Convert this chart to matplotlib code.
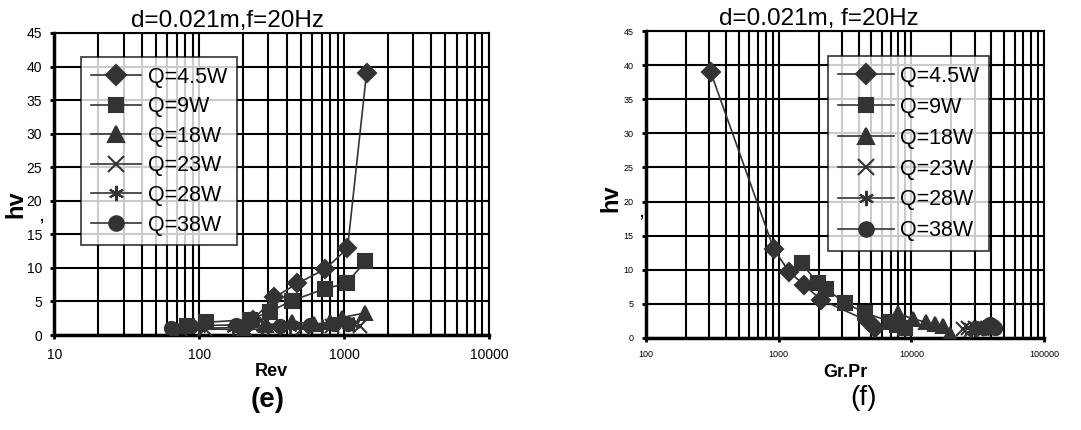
import matplotlib
matplotlib.use('Agg')
import matplotlib.pyplot as plt
from matplotlib.ticker import FixedLocator, FixedFormatter, LogLocator, NullFormatter

plt.rcParams['font.family'] = ['Liberation Sans', 'DejaVu Sans']

labels = ['Q=4.5W', 'Q=9W', 'Q=18W', 'Q=23W', 'Q=28W', 'Q=38W']
markers = ['D', 's', '^', 'x', (6, 2, 0), 'o']

# (e) hv vs Rev
re_45 = [215, 235, 330, 476, 736, 1054, 1426]
hv_45_e = [1.5, 2.3, 5.6, 7.7, 9.8, 12.9, 39.0]
re_9 = [82, 112, 225, 307, 434, 736, 1038, 1403]
hv_9_e = [1.4, 1.9, 2.3, 3.5, 5.1, 6.9, 7.7, 11.0]
re_18 = [200, 290, 434, 620, 800, 960, 1403]
hv_18_e = [0.8, 1.5, 2.0, 1.6, 1.9, 2.6, 3.3]
re_23 = [75, 110, 210, 330, 520, 820, 1290]
hv_23_e = [0.7, 0.9, 0.8, 1.0, 1.1, 1.3, 1.4]
re_28 = [70, 100, 170, 270, 420, 700, 1150]
hv_28_e = [0.8, 1.0, 1.1, 1.2, 1.2, 1.4, 1.6]
re_38 = [64, 88, 180, 360, 585, 850, 1070]
hv_38_e = [1.0, 1.4, 1.5, 1.4, 1.5, 1.6, 1.7]

# (f) hv vs Gr.Pr
gp_45 = [307, 920, 1200, 1550, 2090, 4800, 5300]
hv_45_f = [39.0, 13.0, 9.7, 7.8, 5.6, 2.4, 1.5]
gp_9 = [1490, 1970, 2280, 3170, 4480, 6900, 7800, 9000]
hv_9_f = [11.0, 8.0, 7.2, 5.1, 3.7, 2.4, 1.9, 1.4]
gp_18 = [7900, 10300, 13000, 15000, 17400, 19500]
hv_18_f = [3.6, 2.8, 2.3, 2.0, 1.8, 0.6]
gp_23 = [24500, 26500, 28000, 30000, 31500, 33000, 34500]
hv_23_f = [1.3, 1.4, 1.2, 1.5, 1.3, 1.4, 1.5]
gp_28 = [28000, 30000, 32000, 34000, 36000, 38000]
hv_28_f = [1.2, 1.3, 1.4, 1.4, 1.5, 1.5]
gp_38 = [35000, 37000, 39000, 41000, 43000]
hv_38_f = [1.5, 1.8, 2.0, 1.7, 1.5]

e_series = [(re_45, hv_45_e), (re_9, hv_9_e), (re_18, hv_18_e),
            (re_23, hv_23_e), (re_28, hv_28_e), (re_38, hv_38_e)]
f_series = [(gp_45, hv_45_f), (gp_9, hv_9_f), (gp_18, hv_18_f),
            (gp_23, hv_23_f), (gp_28, hv_28_f), (gp_38, hv_38_f)]

ecol = '#333333'

fig = plt.figure(figsize=(10.81, 4.30), dpi=100)
ax1 = fig.add_axes([0.0504, 0.2209, 0.4020, 0.7024])
ax2 = fig.add_axes([0.5976, 0.2140, 0.3682, 0.7139])


def draw(ax, series, xlim, xticks, tickfs, legfs, leg_anchor, hlen, lspace):
    for (x, y), lab, m in zip(series, labels, markers):
        ms = {'D': 9, 's': 9.5, 'o': 9.5, '^': 10}.get(m, 10)
        ax.plot(x, y, color=ecol, lw=1.2, marker=m, ms=ms, mfc=ecol, mec=ecol,
                mew=1.5, label=lab, zorder=3)
    ax.set_xscale('log')
    ax.set_xlim(*xlim)
    ax.set_ylim(0, 45)
    ax.xaxis.set_major_locator(FixedLocator(xticks))
    ax.xaxis.set_major_formatter(FixedFormatter([str(t) for t in xticks]))
    ax.xaxis.set_minor_locator(LogLocator(base=10, subs=range(2, 10)))
    ax.xaxis.set_minor_formatter(NullFormatter())
    ax.set_yticks(range(0, 50, 5))
    ax.grid(True, which='both', axis='x', color='black', lw=1.5)
    ax.grid(True, which='major', axis='y', color='black', lw=1.5)
    ax.set_axisbelow(True)
    ax.tick_params(axis='both', which='major', labelsize=tickfs, length=3,
                   width=2, direction='out', pad=6)
    ax.tick_params(axis='x', which='minor', length=0)
    for s in ['left', 'bottom']:
        ax.spines[s].set_linewidth(2.5)
    for s in ['top', 'right']:
        ax.spines[s].set_linewidth(1.5)
    leg = ax.legend(loc='upper left', bbox_to_anchor=leg_anchor, fontsize=legfs,
                    frameon=True, fancybox=False, edgecolor='black',
                    handlelength=hlen, handletextpad=0.3, labelspacing=lspace,
                    borderpad=0.45, borderaxespad=0, markerscale=1.1)
    leg.get_frame().set_linewidth(1.2)
    leg.set_zorder(5)


draw(ax1, e_series, (10, 10000), [10, 100, 1000, 10000], 10, 15.5,
     (0.061, 0.921), 2.35, 0.40)
draw(ax2, f_series, (100, 100000), [100, 1000, 10000, 100000], 6.5, 15.5,
     (0.457, 0.918), 2.6, 0.46)

ax1.set_title('d=0.021m,f=20Hz', fontsize=17.5, pad=4, x=0.397)
ax2.set_title('d=0.021m, f=20Hz', fontsize=17.5, pad=4, x=0.435)
ax1.set_xlabel('Rev', fontsize=13, fontweight='bold', labelpad=1)
ax2.set_xlabel('Gr.Pr', fontsize=13, fontweight='bold', labelpad=3)

fig.text(16 / 1081, 1 - 204 / 430, 'hv', rotation=90, fontsize=17,
         fontweight='bold', ha='center', va='center')
fig.text(41 / 1081, 1 - 216 / 430, ',', fontsize=10, fontweight='bold',
         ha='center', va='center')
fig.text(611 / 1081, 1 - 198 / 430, 'hv', rotation=90, fontsize=17,
         fontweight='bold', ha='center', va='center')
fig.text(641 / 1081, 1 - 212 / 430, ',', fontsize=10, fontweight='bold',
         ha='center', va='center')

fig.text(268 / 1081, 1 - 400 / 430, '(e)', fontsize=20, fontweight='bold',
         ha='center', va='center')
fig.text(863 / 1081, 1 - 398 / 430, '(f)', fontsize=20,
         ha='center', va='center')

fig.savefig('out.png', dpi=100)
